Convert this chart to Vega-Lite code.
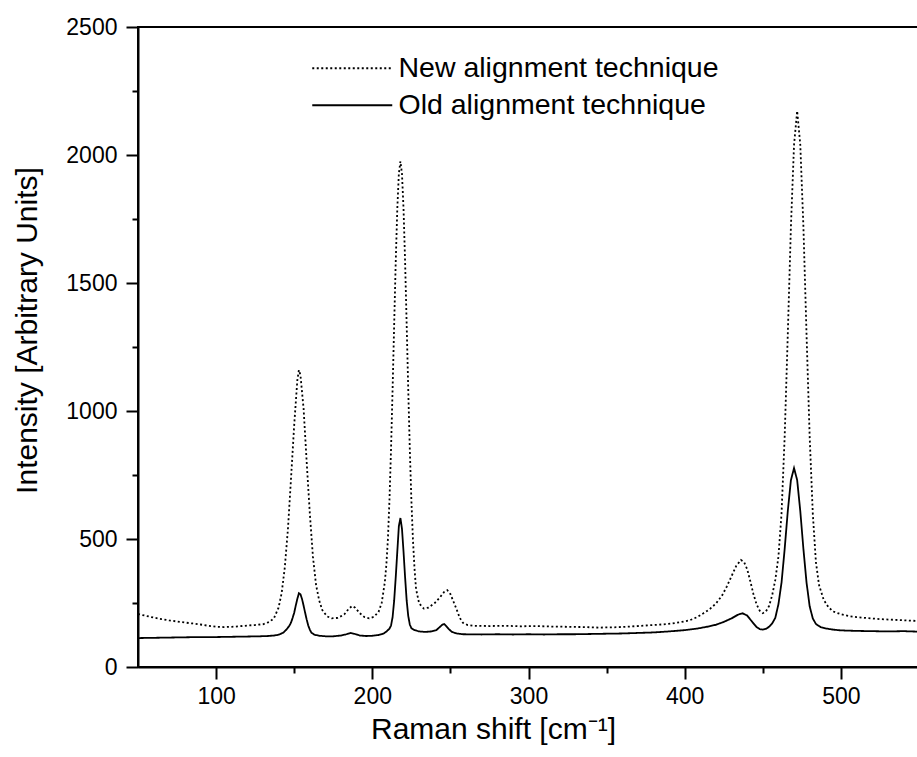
{
  "$schema": "https://vega.github.io/schema/vega-lite/v6.json",
  "width": 781,
  "height": 640,
  "autosize": {"type": "none"},
  "padding": {"left": 138, "top": 27, "right": 0, "bottom": 90},
  "background": "white",
  "config": {
    "view": {"stroke": "black", "strokeWidth": 2},
    "font": "Liberation Sans",
    "axis": {"grid": false, "domainColor": "black", "domainWidth": 2, "tickColor": "black", "tickWidth": 2, "labelColor": "black", "labelFont": "Liberation Sans", "labelFontSize": 23, "titleFont": "Liberation Sans", "titleFontSize": 30, "titleFontWeight": "normal", "titleColor": "black", "labelFlush": false, "format": "d"}
  },
  "datasets": {
    "spectra": [
      {"shift": 50, "intensity": 207, "series": "New alignment technique"},
      {"shift": 55, "intensity": 200, "series": "New alignment technique"},
      {"shift": 60, "intensity": 193, "series": "New alignment technique"},
      {"shift": 65, "intensity": 187, "series": "New alignment technique"},
      {"shift": 70, "intensity": 182, "series": "New alignment technique"},
      {"shift": 77, "intensity": 176, "series": "New alignment technique"},
      {"shift": 85, "intensity": 170, "series": "New alignment technique"},
      {"shift": 90, "intensity": 166, "series": "New alignment technique"},
      {"shift": 95, "intensity": 161, "series": "New alignment technique"},
      {"shift": 100, "intensity": 157, "series": "New alignment technique"},
      {"shift": 105, "intensity": 156, "series": "New alignment technique"},
      {"shift": 110, "intensity": 157, "series": "New alignment technique"},
      {"shift": 115, "intensity": 159, "series": "New alignment technique"},
      {"shift": 120, "intensity": 162, "series": "New alignment technique"},
      {"shift": 125, "intensity": 164, "series": "New alignment technique"},
      {"shift": 130, "intensity": 167, "series": "New alignment technique"},
      {"shift": 134, "intensity": 176, "series": "New alignment technique"},
      {"shift": 137, "intensity": 190, "series": "New alignment technique"},
      {"shift": 140, "intensity": 232, "series": "New alignment technique"},
      {"shift": 142, "intensity": 290, "series": "New alignment technique"},
      {"shift": 144, "intensity": 390, "series": "New alignment technique"},
      {"shift": 146, "intensity": 540, "series": "New alignment technique"},
      {"shift": 148, "intensity": 740, "series": "New alignment technique"},
      {"shift": 150, "intensity": 945, "series": "New alignment technique"},
      {"shift": 152, "intensity": 1120, "series": "New alignment technique"},
      {"shift": 153, "intensity": 1160, "series": "New alignment technique"},
      {"shift": 154, "intensity": 1140, "series": "New alignment technique"},
      {"shift": 156, "intensity": 1010, "series": "New alignment technique"},
      {"shift": 158, "intensity": 800, "series": "New alignment technique"},
      {"shift": 160, "intensity": 600, "series": "New alignment technique"},
      {"shift": 162, "intensity": 430, "series": "New alignment technique"},
      {"shift": 164, "intensity": 320, "series": "New alignment technique"},
      {"shift": 166, "intensity": 260, "series": "New alignment technique"},
      {"shift": 168, "intensity": 222, "series": "New alignment technique"},
      {"shift": 171, "intensity": 198, "series": "New alignment technique"},
      {"shift": 174, "intensity": 190, "series": "New alignment technique"},
      {"shift": 178, "intensity": 192, "series": "New alignment technique"},
      {"shift": 182, "intensity": 205, "series": "New alignment technique"},
      {"shift": 185, "intensity": 228, "series": "New alignment technique"},
      {"shift": 187, "intensity": 238, "series": "New alignment technique"},
      {"shift": 189, "intensity": 232, "series": "New alignment technique"},
      {"shift": 192, "intensity": 210, "series": "New alignment technique"},
      {"shift": 195, "intensity": 195, "series": "New alignment technique"},
      {"shift": 198, "intensity": 190, "series": "New alignment technique"},
      {"shift": 201, "intensity": 196, "series": "New alignment technique"},
      {"shift": 204, "intensity": 215, "series": "New alignment technique"},
      {"shift": 206, "intensity": 250, "series": "New alignment technique"},
      {"shift": 207, "intensity": 290, "series": "New alignment technique"},
      {"shift": 208, "intensity": 330, "series": "New alignment technique"},
      {"shift": 209, "intensity": 400, "series": "New alignment technique"},
      {"shift": 210, "intensity": 500, "series": "New alignment technique"},
      {"shift": 211, "intensity": 655, "series": "New alignment technique"},
      {"shift": 212, "intensity": 853, "series": "New alignment technique"},
      {"shift": 213, "intensity": 1087, "series": "New alignment technique"},
      {"shift": 214, "intensity": 1338, "series": "New alignment technique"},
      {"shift": 215, "intensity": 1583, "series": "New alignment technique"},
      {"shift": 216, "intensity": 1789, "series": "New alignment technique"},
      {"shift": 217, "intensity": 1927, "series": "New alignment technique"},
      {"shift": 218, "intensity": 1975, "series": "New alignment technique"},
      {"shift": 219, "intensity": 1927, "series": "New alignment technique"},
      {"shift": 220, "intensity": 1789, "series": "New alignment technique"},
      {"shift": 221, "intensity": 1583, "series": "New alignment technique"},
      {"shift": 222, "intensity": 1338, "series": "New alignment technique"},
      {"shift": 223, "intensity": 1087, "series": "New alignment technique"},
      {"shift": 224, "intensity": 853, "series": "New alignment technique"},
      {"shift": 225, "intensity": 655, "series": "New alignment technique"},
      {"shift": 226, "intensity": 500, "series": "New alignment technique"},
      {"shift": 227, "intensity": 387, "series": "New alignment technique"},
      {"shift": 228, "intensity": 305, "series": "New alignment technique"},
      {"shift": 230, "intensity": 248, "series": "New alignment technique"},
      {"shift": 233, "intensity": 228, "series": "New alignment technique"},
      {"shift": 236, "intensity": 232, "series": "New alignment technique"},
      {"shift": 240, "intensity": 250, "series": "New alignment technique"},
      {"shift": 243, "intensity": 270, "series": "New alignment technique"},
      {"shift": 246, "intensity": 293, "series": "New alignment technique"},
      {"shift": 248, "intensity": 300, "series": "New alignment technique"},
      {"shift": 250, "intensity": 285, "series": "New alignment technique"},
      {"shift": 252, "intensity": 255, "series": "New alignment technique"},
      {"shift": 254, "intensity": 225, "series": "New alignment technique"},
      {"shift": 256, "intensity": 192, "series": "New alignment technique"},
      {"shift": 258, "intensity": 173, "series": "New alignment technique"},
      {"shift": 261, "intensity": 164, "series": "New alignment technique"},
      {"shift": 265, "intensity": 161, "series": "New alignment technique"},
      {"shift": 275, "intensity": 160, "series": "New alignment technique"},
      {"shift": 285, "intensity": 161, "series": "New alignment technique"},
      {"shift": 295, "intensity": 159, "series": "New alignment technique"},
      {"shift": 305, "intensity": 160, "series": "New alignment technique"},
      {"shift": 315, "intensity": 158, "series": "New alignment technique"},
      {"shift": 325, "intensity": 157, "series": "New alignment technique"},
      {"shift": 335, "intensity": 156, "series": "New alignment technique"},
      {"shift": 345, "intensity": 154, "series": "New alignment technique"},
      {"shift": 355, "intensity": 155, "series": "New alignment technique"},
      {"shift": 365, "intensity": 158, "series": "New alignment technique"},
      {"shift": 375, "intensity": 162, "series": "New alignment technique"},
      {"shift": 385, "intensity": 166, "series": "New alignment technique"},
      {"shift": 392, "intensity": 170, "series": "New alignment technique"},
      {"shift": 398, "intensity": 176, "series": "New alignment technique"},
      {"shift": 403, "intensity": 182, "series": "New alignment technique"},
      {"shift": 408, "intensity": 195, "series": "New alignment technique"},
      {"shift": 412, "intensity": 210, "series": "New alignment technique"},
      {"shift": 416, "intensity": 226, "series": "New alignment technique"},
      {"shift": 420, "intensity": 248, "series": "New alignment technique"},
      {"shift": 424, "intensity": 280, "series": "New alignment technique"},
      {"shift": 427, "intensity": 315, "series": "New alignment technique"},
      {"shift": 430, "intensity": 355, "series": "New alignment technique"},
      {"shift": 433, "intensity": 395, "series": "New alignment technique"},
      {"shift": 436, "intensity": 418, "series": "New alignment technique"},
      {"shift": 438, "intensity": 410, "series": "New alignment technique"},
      {"shift": 440, "intensity": 382, "series": "New alignment technique"},
      {"shift": 442, "intensity": 335, "series": "New alignment technique"},
      {"shift": 444, "intensity": 285, "series": "New alignment technique"},
      {"shift": 446, "intensity": 245, "series": "New alignment technique"},
      {"shift": 448, "intensity": 220, "series": "New alignment technique"},
      {"shift": 450, "intensity": 210, "series": "New alignment technique"},
      {"shift": 452, "intensity": 217, "series": "New alignment technique"},
      {"shift": 454, "intensity": 238, "series": "New alignment technique"},
      {"shift": 456, "intensity": 280, "series": "New alignment technique"},
      {"shift": 458, "intensity": 340, "series": "New alignment technique"},
      {"shift": 460, "intensity": 430, "series": "New alignment technique"},
      {"shift": 462, "intensity": 600, "series": "New alignment technique"},
      {"shift": 464, "intensity": 900, "series": "New alignment technique"},
      {"shift": 466, "intensity": 1300, "series": "New alignment technique"},
      {"shift": 468, "intensity": 1720, "series": "New alignment technique"},
      {"shift": 470, "intensity": 2040, "series": "New alignment technique"},
      {"shift": 472, "intensity": 2172, "series": "New alignment technique"},
      {"shift": 474, "intensity": 2040, "series": "New alignment technique"},
      {"shift": 476, "intensity": 1720, "series": "New alignment technique"},
      {"shift": 478, "intensity": 1300, "series": "New alignment technique"},
      {"shift": 480, "intensity": 900, "series": "New alignment technique"},
      {"shift": 482, "intensity": 600, "series": "New alignment technique"},
      {"shift": 484, "intensity": 410, "series": "New alignment technique"},
      {"shift": 486, "intensity": 320, "series": "New alignment technique"},
      {"shift": 489, "intensity": 262, "series": "New alignment technique"},
      {"shift": 492, "intensity": 234, "series": "New alignment technique"},
      {"shift": 495, "intensity": 217, "series": "New alignment technique"},
      {"shift": 500, "intensity": 206, "series": "New alignment technique"},
      {"shift": 505, "intensity": 199, "series": "New alignment technique"},
      {"shift": 510, "intensity": 195, "series": "New alignment technique"},
      {"shift": 517, "intensity": 191, "series": "New alignment technique"},
      {"shift": 525, "intensity": 187, "series": "New alignment technique"},
      {"shift": 535, "intensity": 184, "series": "New alignment technique"},
      {"shift": 545, "intensity": 181, "series": "New alignment technique"},
      {"shift": 550, "intensity": 180, "series": "New alignment technique"},
      {"shift": 50, "intensity": 113, "series": "Old alignment technique"},
      {"shift": 60, "intensity": 114, "series": "Old alignment technique"},
      {"shift": 70, "intensity": 115, "series": "Old alignment technique"},
      {"shift": 80, "intensity": 116, "series": "Old alignment technique"},
      {"shift": 90, "intensity": 117, "series": "Old alignment technique"},
      {"shift": 100, "intensity": 117, "series": "Old alignment technique"},
      {"shift": 110, "intensity": 118, "series": "Old alignment technique"},
      {"shift": 120, "intensity": 119, "series": "Old alignment technique"},
      {"shift": 128, "intensity": 120, "series": "Old alignment technique"},
      {"shift": 133, "intensity": 121, "series": "Old alignment technique"},
      {"shift": 137, "intensity": 123, "series": "Old alignment technique"},
      {"shift": 140, "intensity": 126, "series": "Old alignment technique"},
      {"shift": 143, "intensity": 134, "series": "Old alignment technique"},
      {"shift": 145, "intensity": 146, "series": "Old alignment technique"},
      {"shift": 147, "intensity": 162, "series": "Old alignment technique"},
      {"shift": 148, "intensity": 174, "series": "Old alignment technique"},
      {"shift": 149, "intensity": 192, "series": "Old alignment technique"},
      {"shift": 150, "intensity": 212, "series": "Old alignment technique"},
      {"shift": 151, "intensity": 240, "series": "Old alignment technique"},
      {"shift": 152, "intensity": 266, "series": "Old alignment technique"},
      {"shift": 153, "intensity": 288, "series": "Old alignment technique"},
      {"shift": 154, "intensity": 284, "series": "Old alignment technique"},
      {"shift": 155, "intensity": 266, "series": "Old alignment technique"},
      {"shift": 156, "intensity": 240, "series": "Old alignment technique"},
      {"shift": 157, "intensity": 212, "series": "Old alignment technique"},
      {"shift": 158, "intensity": 185, "series": "Old alignment technique"},
      {"shift": 159, "intensity": 162, "series": "Old alignment technique"},
      {"shift": 160, "intensity": 146, "series": "Old alignment technique"},
      {"shift": 161, "intensity": 134, "series": "Old alignment technique"},
      {"shift": 163, "intensity": 126, "series": "Old alignment technique"},
      {"shift": 166, "intensity": 122, "series": "Old alignment technique"},
      {"shift": 170, "intensity": 120, "series": "Old alignment technique"},
      {"shift": 175, "intensity": 120, "series": "Old alignment technique"},
      {"shift": 180, "intensity": 123, "series": "Old alignment technique"},
      {"shift": 183, "intensity": 127, "series": "Old alignment technique"},
      {"shift": 186, "intensity": 133, "series": "Old alignment technique"},
      {"shift": 189, "intensity": 129, "series": "Old alignment technique"},
      {"shift": 192, "intensity": 123, "series": "Old alignment technique"},
      {"shift": 196, "intensity": 121, "series": "Old alignment technique"},
      {"shift": 200, "intensity": 122, "series": "Old alignment technique"},
      {"shift": 204, "intensity": 125, "series": "Old alignment technique"},
      {"shift": 207, "intensity": 130, "series": "Old alignment technique"},
      {"shift": 209, "intensity": 138, "series": "Old alignment technique"},
      {"shift": 211, "intensity": 150, "series": "Old alignment technique"},
      {"shift": 212, "intensity": 162, "series": "Old alignment technique"},
      {"shift": 213, "intensity": 195, "series": "Old alignment technique"},
      {"shift": 214, "intensity": 260, "series": "Old alignment technique"},
      {"shift": 215, "intensity": 350, "series": "Old alignment technique"},
      {"shift": 216, "intensity": 450, "series": "Old alignment technique"},
      {"shift": 217, "intensity": 550, "series": "Old alignment technique"},
      {"shift": 218, "intensity": 582, "series": "Old alignment technique"},
      {"shift": 219, "intensity": 540, "series": "Old alignment technique"},
      {"shift": 220, "intensity": 450, "series": "Old alignment technique"},
      {"shift": 221, "intensity": 350, "series": "Old alignment technique"},
      {"shift": 222, "intensity": 260, "series": "Old alignment technique"},
      {"shift": 223, "intensity": 200, "series": "Old alignment technique"},
      {"shift": 224, "intensity": 166, "series": "Old alignment technique"},
      {"shift": 225, "intensity": 152, "series": "Old alignment technique"},
      {"shift": 227, "intensity": 144, "series": "Old alignment technique"},
      {"shift": 230, "intensity": 139, "series": "Old alignment technique"},
      {"shift": 234, "intensity": 137, "series": "Old alignment technique"},
      {"shift": 238, "intensity": 139, "series": "Old alignment technique"},
      {"shift": 241, "intensity": 144, "series": "Old alignment technique"},
      {"shift": 243, "intensity": 155, "series": "Old alignment technique"},
      {"shift": 245, "intensity": 166, "series": "Old alignment technique"},
      {"shift": 246, "intensity": 168, "series": "Old alignment technique"},
      {"shift": 247, "intensity": 162, "series": "Old alignment technique"},
      {"shift": 249, "intensity": 148, "series": "Old alignment technique"},
      {"shift": 251, "intensity": 137, "series": "Old alignment technique"},
      {"shift": 254, "intensity": 131, "series": "Old alignment technique"},
      {"shift": 258, "intensity": 128, "series": "Old alignment technique"},
      {"shift": 270, "intensity": 127, "series": "Old alignment technique"},
      {"shift": 280, "intensity": 128, "series": "Old alignment technique"},
      {"shift": 290, "intensity": 127, "series": "Old alignment technique"},
      {"shift": 300, "intensity": 128, "series": "Old alignment technique"},
      {"shift": 310, "intensity": 127, "series": "Old alignment technique"},
      {"shift": 320, "intensity": 128, "series": "Old alignment technique"},
      {"shift": 330, "intensity": 128, "series": "Old alignment technique"},
      {"shift": 340, "intensity": 129, "series": "Old alignment technique"},
      {"shift": 350, "intensity": 130, "series": "Old alignment technique"},
      {"shift": 360, "intensity": 131, "series": "Old alignment technique"},
      {"shift": 370, "intensity": 133, "series": "Old alignment technique"},
      {"shift": 380, "intensity": 135, "series": "Old alignment technique"},
      {"shift": 390, "intensity": 139, "series": "Old alignment technique"},
      {"shift": 400, "intensity": 144, "series": "Old alignment technique"},
      {"shift": 408, "intensity": 150, "series": "Old alignment technique"},
      {"shift": 415, "intensity": 158, "series": "Old alignment technique"},
      {"shift": 420, "intensity": 165, "series": "Old alignment technique"},
      {"shift": 425, "intensity": 176, "series": "Old alignment technique"},
      {"shift": 430, "intensity": 190, "series": "Old alignment technique"},
      {"shift": 434, "intensity": 204, "series": "Old alignment technique"},
      {"shift": 437, "intensity": 210, "series": "Old alignment technique"},
      {"shift": 440, "intensity": 201, "series": "Old alignment technique"},
      {"shift": 443, "intensity": 178, "series": "Old alignment technique"},
      {"shift": 446, "intensity": 156, "series": "Old alignment technique"},
      {"shift": 448, "intensity": 148, "series": "Old alignment technique"},
      {"shift": 450, "intensity": 146, "series": "Old alignment technique"},
      {"shift": 452, "intensity": 149, "series": "Old alignment technique"},
      {"shift": 454, "intensity": 157, "series": "Old alignment technique"},
      {"shift": 456, "intensity": 170, "series": "Old alignment technique"},
      {"shift": 458, "intensity": 192, "series": "Old alignment technique"},
      {"shift": 460, "intensity": 245, "series": "Old alignment technique"},
      {"shift": 462, "intensity": 330, "series": "Old alignment technique"},
      {"shift": 464, "intensity": 461, "series": "Old alignment technique"},
      {"shift": 466, "intensity": 609, "series": "Old alignment technique"},
      {"shift": 468, "intensity": 730, "series": "Old alignment technique"},
      {"shift": 470, "intensity": 777, "series": "Old alignment technique"},
      {"shift": 472, "intensity": 730, "series": "Old alignment technique"},
      {"shift": 474, "intensity": 609, "series": "Old alignment technique"},
      {"shift": 476, "intensity": 461, "series": "Old alignment technique"},
      {"shift": 478, "intensity": 330, "series": "Old alignment technique"},
      {"shift": 480, "intensity": 237, "series": "Old alignment technique"},
      {"shift": 482, "intensity": 190, "series": "Old alignment technique"},
      {"shift": 484, "intensity": 168, "series": "Old alignment technique"},
      {"shift": 487, "intensity": 156, "series": "Old alignment technique"},
      {"shift": 490, "intensity": 151, "series": "Old alignment technique"},
      {"shift": 495, "intensity": 146, "series": "Old alignment technique"},
      {"shift": 500, "intensity": 143, "series": "Old alignment technique"},
      {"shift": 510, "intensity": 141, "series": "Old alignment technique"},
      {"shift": 520, "intensity": 140, "series": "Old alignment technique"},
      {"shift": 530, "intensity": 139, "series": "Old alignment technique"},
      {"shift": 540, "intensity": 140, "series": "Old alignment technique"},
      {"shift": 550, "intensity": 138, "series": "Old alignment technique"}
    ]
  },
  "data": {"name": "spectra"},
  "layer": [
    {
      "mark": {"type": "line", "color": "black", "strokeWidth": 1.8},
      "encoding": {
        "x": {"field": "shift", "type": "quantitative", "scale": {"domain": [50, 550], "nice": false, "zero": false},
          "axis": {"orient": "bottom", "values": [100, 200, 300, 400, 500], "tickSize": 12, "labelPadding": 6, "title": "Raman shift [cm⁻¹]", "titleX": 355, "titleY": 71, "titleBaseline": "alphabetic", "titleAlign": "center"}},
        "y": {"field": "intensity", "type": "quantitative", "scale": {"domain": [0, 2500], "nice": false},
          "axis": {"orient": "left", "values": [0, 500, 1000, 1500, 2000, 2500], "tickSize": 12, "labelPadding": 9, "title": "Intensity [Arbitrary Units]", "titleX": -111, "titleY": 303, "titleAngle": -90, "titleBaseline": "middle", "titleAlign": "center"}},
        "strokeDash": {"field": "series", "type": "nominal",
          "scale": {"domain": ["New alignment technique", "Old alignment technique"], "range": [[2, 2.5], [1, 0]]},
          "legend": {"orient": "none", "legendX": 200, "legendY": 27, "title": null, "padding": 0, "symbolType": "M-4,0L4,0", "symbolSize": 400, "symbolStrokeWidth": 1.8, "symbolStrokeColor": "black", "symbolFillColor": "transparent", "labelFont": "Liberation Sans", "labelFontSize": 28.5, "labelColor": "black", "labelOffset": 32, "labelLimit": 0, "rowPadding": 8}}
      }
    },
    {
      "mark": {"type": "line", "strokeOpacity": 0},
      "encoding": {
        "x": {"field": "shift", "type": "quantitative", "axis": {"orient": "bottom", "values": [150, 250, 350, 450], "tickSize": 6, "labels": false, "domain": false, "title": null}},
        "y": {"field": "intensity", "type": "quantitative", "axis": {"orient": "left", "values": [250, 750, 1250, 1750, 2250], "tickSize": 6, "labels": false, "domain": false, "title": null}},
        "detail": {"field": "series"}
      }
    }
  ],
  "resolve": {"axis": {"x": "independent", "y": "independent"}}
}
